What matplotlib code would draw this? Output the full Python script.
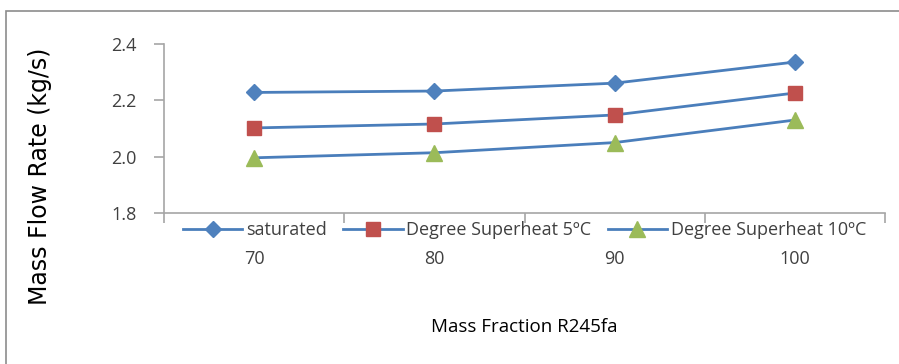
import matplotlib
matplotlib.use('Agg')
import matplotlib.pyplot as plt
from matplotlib.patches import Rectangle

# data
fractions = ['70', '80', '90', '100']
saturated = [2.228, 2.233, 2.261, 2.336]
superheat5 = [2.102, 2.116, 2.148, 2.226]
superheat10 = [1.996, 2.014, 2.050, 2.130]
yticks = [1.8, 2.0, 2.2, 2.4]

plt.rcParams['font.family'] = ['Open Sans', 'DejaVu Sans']

fig = plt.figure(figsize=(8.99, 3.64), dpi=100)
fig.patches.append(Rectangle((6/899, -0.1), 1.2, (364-11)/364 + 0.1, transform=fig.transFigure,
                             fill=False, edgecolor='#8c8c8c', lw=1.2))
ax = fig.add_axes([164/899, 1 - 213/364, (885-164)/899, (213-44)/364])

x = list(range(len(fractions)))
line_col = '#4a7ebb'
ax.plot(x, saturated, color=line_col, lw=2, marker='D', ms=8.5, mfc='#4f81bd', mec='#4f81bd',
        label='saturated')
ax.plot(x, superheat5, color=line_col, lw=2, marker='s', ms=10, mfc='#c0504d', mec='#c0504d',
        label='Degree Superheat 5ºC')
ax.plot(x, superheat10, color=line_col, lw=2, marker='^', ms=11, mfc='#9bbb59', mec='#9bbb59',
        label='Degree Superheat 10ºC')

ax.set_xlim(-0.5, len(fractions) - 0.5)
ax.set_ylim(1.8, 2.4)
ax.set_yticks(yticks)
ax.set_yticklabels(['%.1f' % v for v in yticks])
ax.set_xticks(x)
ax.set_xticklabels(fractions)
ax.set_xticks([i - 0.5 for i in range(len(fractions) + 1)], minor=True)
ax.tick_params(axis='x', which='major', length=0, pad=27, labelsize=13, labelcolor='#404040')
ax.tick_params(axis='x', which='minor', length=7, width=1.2, color='#a6a6a6', direction='out')
ax.tick_params(axis='y', length=7, width=1.2, color='#a6a6a6', pad=13, labelsize=13,
               labelcolor='#404040')

for s in ['top', 'right']:
    ax.spines[s].set_visible(False)
for s in ['left', 'bottom']:
    ax.spines[s].set_color('#a6a6a6')
    ax.spines[s].set_linewidth(1.2)

ax.set_ylabel('Mass Flow Rate (kg/s)', family='DejaVu Sans', fontsize=17)
ax.yaxis.set_label_coords(-0.155, 0.22)
ax.set_xlabel('Mass Fraction R245fa', fontsize=13.5, labelpad=36)

ax.legend(loc='center', bbox_to_anchor=(0.5, -0.1), ncol=3, frameon=False, fontsize=13,
          handlelength=3.3, columnspacing=0.9, handletextpad=0.2, borderaxespad=0,
          labelcolor='#404040')

fig.savefig('out.png', dpi=100)
